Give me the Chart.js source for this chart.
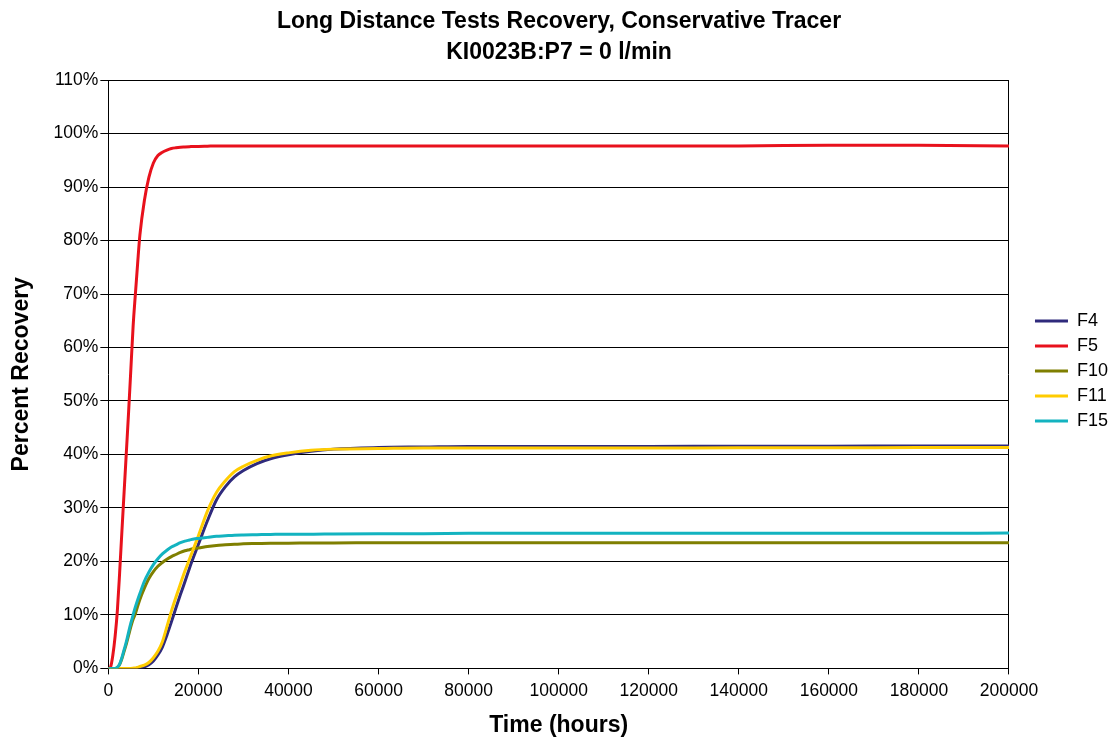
<!DOCTYPE html>
<html>
<head>
<meta charset="utf-8">
<script src="https://cdn.jsdelivr.net/npm/chart.js@4/dist/chart.umd.min.js"></script>
<style>
body{margin:0;background:#fff}
</style>
</head>
<body>
<canvas id="chart" width="1118" height="742"></canvas>
<script>

/* DATA */

const times=[0,500,1000,1500,2000,2500,3000,3500,4000,4500,5000,5500,6000,6500,7000,
8000,9000,10000,11000,12000,13000,14000,15000,16000,17000,18000,19000,20000,
22000,24000,26000,28000,30000,33000,36000,40000,45000,50000,60000,70000,80000,
100000,120000,140000,160000,180000,200000]

const seriesNames=["F4","F5","F10","F11","F15"]

const f4=[0,0,0,0,0,0,0,0,0,0,0,0,0,0.1,0.15,
0.3,0.7,1.4,2.5,4,6.2,8.7,11.3,13.8,16.2,18.7,21,23.2,
27.6,31.5,34,35.8,37,38.3,39.2,39.95,40.6,41,41.3,41.4,41.5,
41.5,41.5,41.55,41.55,41.6,41.6]

const f5=[0,0.3,2.5,6,10.8,17.8,25.5,33,40.5,48,56,64,70,75.7,81,
87.5,91.8,94.5,95.9,96.5,96.9,97.2,97.35,97.45,97.5,97.55,97.6,97.6,
97.65,97.7,97.7,97.7,97.7,97.7,97.7,97.7,97.7,97.7,97.7,97.7,97.7,
97.7,97.7,97.7,97.8,97.8,97.7]

const f10=[0,0,0,0,0.2,0.7,1.8,3.2,4.6,6.2,7.8,9.2,10.2,11.6,12.9,
15,16.8,18.1,19.1,19.8,20.4,20.9,21.3,21.7,22,22.2,22.4,22.5,
22.8,23,23.1,23.2,23.3,23.35,23.4,23.4,23.45,23.45,23.5,23.5,23.5,
23.5,23.5,23.5,23.5,23.5,23.5]

const f11=[0,0,0,0,0,0,0,0,0,0,0,0.05,0.1,0.2,0.35,
0.6,1.1,2,3.2,5,7.8,10.7,13.3,15.8,18.2,20.4,22.6,24.8,
29.4,32.9,35.1,36.8,37.8,38.9,39.7,40.3,40.8,41,41.1,41.2,41.2,
41.2,41.2,41.25,41.25,41.3,41.3]

const f15=[0,0,0,0,0.2,0.8,2,3.5,5,6.8,8.5,10,11.5,12.8,14,
16.3,18,19.4,20.5,21.4,22.1,22.7,23.1,23.5,23.8,24,24.2,24.3,
24.5,24.7,24.8,24.9,24.95,25,25.05,25.1,25.1,25.15,25.2,25.2,25.25,
25.25,25.25,25.25,25.25,25.25,25.3]

const seriesValues=[f4,f5,f10,f11,f15]
const seriesColors=["#2f2a7c","#e8111c","#7f7f00","#ffcc00","#13b3c0"]

const xTicks=[0,20000,40000,60000,80000,100000,120000,140000,160000,180000,200000]
const yTicks=[0,10,20,30,40,50,60,70,80,90,100,110]


/* CHART */

const fontFamily="'Liberation Sans', Arial, sans-serif"

const datasets=seriesNames.map((name,i)=>({
label:name,
data:times.map((t,k)=>({x:t,y:seriesValues[i][k]})),
borderColor:seriesColors[i],
backgroundColor:seriesColors[i],
borderWidth:3,
pointRadius:0,
fill:false,
cubicInterpolationMode:"monotone",
order:seriesNames.length-i
}))

new Chart(document.getElementById("chart"),{

type:"line",

data:{datasets:datasets},

options:{
responsive:false,
animation:false,
layout:{padding:{left:0,right:0,top:0,bottom:0}},

plugins:{
title:{
display:true,
text:["Long Distance Tests Recovery, Conservative Tracer","KI0023B:P7 = 0 l/min"],
color:"#000",
font:{family:fontFamily,size:23,weight:"bold",lineHeight:1.35},
padding:{top:6,bottom:12}
},
legend:{
position:"right",
labels:{
color:"#000",
font:{family:fontFamily,size:18},
usePointStyle:true,
pointStyle:"line",
pointStyleWidth:33,
padding:7,
sort:(a,b)=>a.datasetIndex-b.datasetIndex
}
},
tooltip:{enabled:false}
},

scales:{
x:{
type:"linear",
min:0,
max:200000,
afterBuildTicks:s=>{s.ticks=xTicks.map(v=>({value:v}))},
ticks:{
color:"#000",
font:{family:fontFamily,size:17.5},
padding:6,
maxRotation:0,
autoSkip:false,
callback:v=>String(v)
},
grid:{drawOnChartArea:false,drawTicks:true,tickLength:6,color:"#000"},
border:{display:true,color:"#000",width:1},
title:{
display:true,
text:"Time (hours)",
color:"#000",
font:{family:fontFamily,size:23,weight:"bold"},
padding:{top:4,bottom:3}
}
},
y:{
min:0,
max:110,
afterBuildTicks:s=>{s.ticks=yTicks.map(v=>({value:v}))},
ticks:{
color:"#000",
font:{family:fontFamily,size:17.5},
padding:2,
callback:v=>v+"%"
},
grid:{color:"#000",lineWidth:1,drawTicks:true,tickLength:8},
border:{display:true,color:"#000",width:1},
title:{
display:true,
text:"Percent Recovery",
color:"#000",
font:{family:fontFamily,size:23,weight:"bold"},
padding:{top:8,bottom:16}
}
},
y2:{
position:"right",
min:0,
max:110,
ticks:{display:false},
grid:{drawOnChartArea:false,drawTicks:false},
border:{display:true,color:"#000",width:1},
afterFit:s=>{s.width=19}
}
}

}

})

</script>
</body>
</html>
